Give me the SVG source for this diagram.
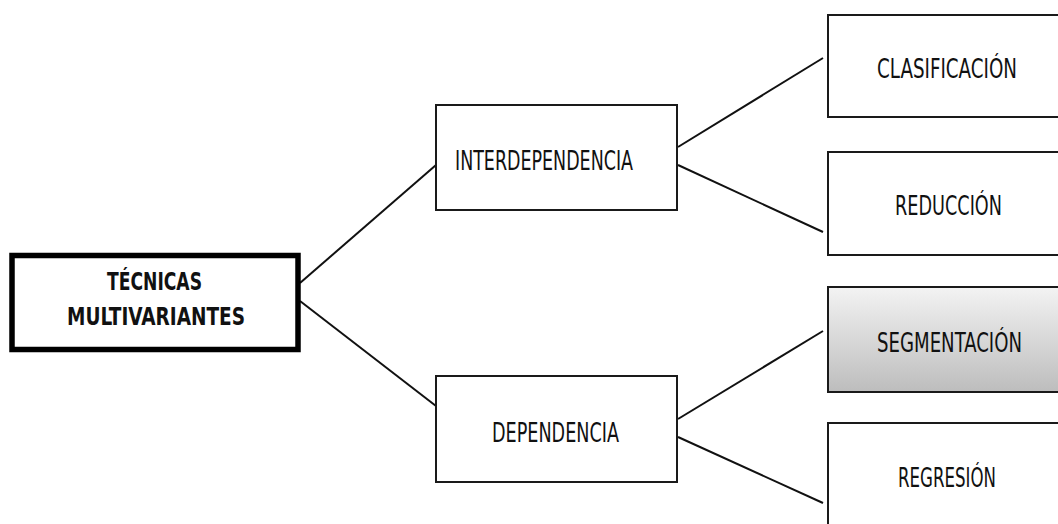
<svg xmlns="http://www.w3.org/2000/svg" width="1058" height="524" viewBox="0 0 1058 524">
<style>
.box{fill:#fff;stroke:#1a1a1a;stroke-width:2}
.bg{fill:#fff;stroke:none}
.edge{fill:none;stroke:#1a1a1a;stroke-width:2}
.lbl{font-family:"Liberation Sans Narrow","DejaVu Sans Condensed","Liberation Sans",sans-serif;font-size:26px;fill:#111}
.bold{font-weight:bold;font-size:25px}
.conn line{stroke:#111;stroke-width:2}
</style>
<defs>
<linearGradient id="g" x1="0" y1="0" x2="0" y2="1">
<stop offset="0" stop-color="#f3f3f3"/>
<stop offset="1" stop-color="#bdbdbd"/>
</linearGradient>
</defs>
<rect width="1058" height="524" fill="#fff"/>
<g class="conn">
<line x1="300" y1="283" x2="436" y2="165"/>
<line x1="300" y1="301" x2="436" y2="406"/>
<line x1="678" y1="147" x2="823" y2="58"/>
<line x1="678" y1="165" x2="823" y2="232"/>
<line x1="678" y1="419" x2="823" y2="331"/>
<line x1="678" y1="437" x2="823" y2="503"/>
</g>
<g id="tecnicas">
<rect x="12" y="255.5" width="286" height="94" fill="#fff" stroke="#000" stroke-width="5.5"/>
<text class="lbl bold" x="107" y="290" textLength="95" lengthAdjust="spacingAndGlyphs">TÉCNICAS</text>
<text class="lbl bold" x="67" y="325" textLength="178" lengthAdjust="spacingAndGlyphs">MULTIVARIANTES</text>
</g>
<g id="interdependencia">
<rect class="box" x="436" y="105" width="241" height="105"/>
<text class="lbl" x="455" y="170" textLength="178" lengthAdjust="spacingAndGlyphs">INTERDEPENDENCIA</text>
</g>
<g id="dependencia">
<rect class="box" x="436" y="376" width="241" height="106"/>
<text class="lbl" x="492" y="442" textLength="127" lengthAdjust="spacingAndGlyphs">DEPENDENCIA</text>
</g>
<g id="clasificacion">
<rect class="bg" x="828" y="15" width="230" height="102"/>
<path class="edge" d="M1058 15H828V117H1058"/>
<text class="lbl" x="877" y="78" textLength="140" lengthAdjust="spacingAndGlyphs">CLASIFICACIÓN</text>
</g>
<g id="reduccion">
<rect class="bg" x="828" y="152" width="230" height="103"/>
<path class="edge" d="M1058 152H828V255H1058"/>
<text class="lbl" x="895" y="215" textLength="107" lengthAdjust="spacingAndGlyphs">REDUCCIÓN</text>
</g>
<g id="segmentacion">
<rect x="828" y="287" width="230" height="105" fill="url(#g)"/>
<path class="edge" d="M1058 287H828V392H1058"/>
<text class="lbl" x="877" y="352" textLength="145" lengthAdjust="spacingAndGlyphs">SEGMENTACIÓN</text>
</g>
<g id="regresion">
<rect class="bg" x="828" y="423" width="230" height="101"/>
<path class="edge" d="M1058 423H828V524"/>
<text class="lbl" x="898" y="487" textLength="98" lengthAdjust="spacingAndGlyphs">REGRESIÓN</text>
</g>
</svg>
